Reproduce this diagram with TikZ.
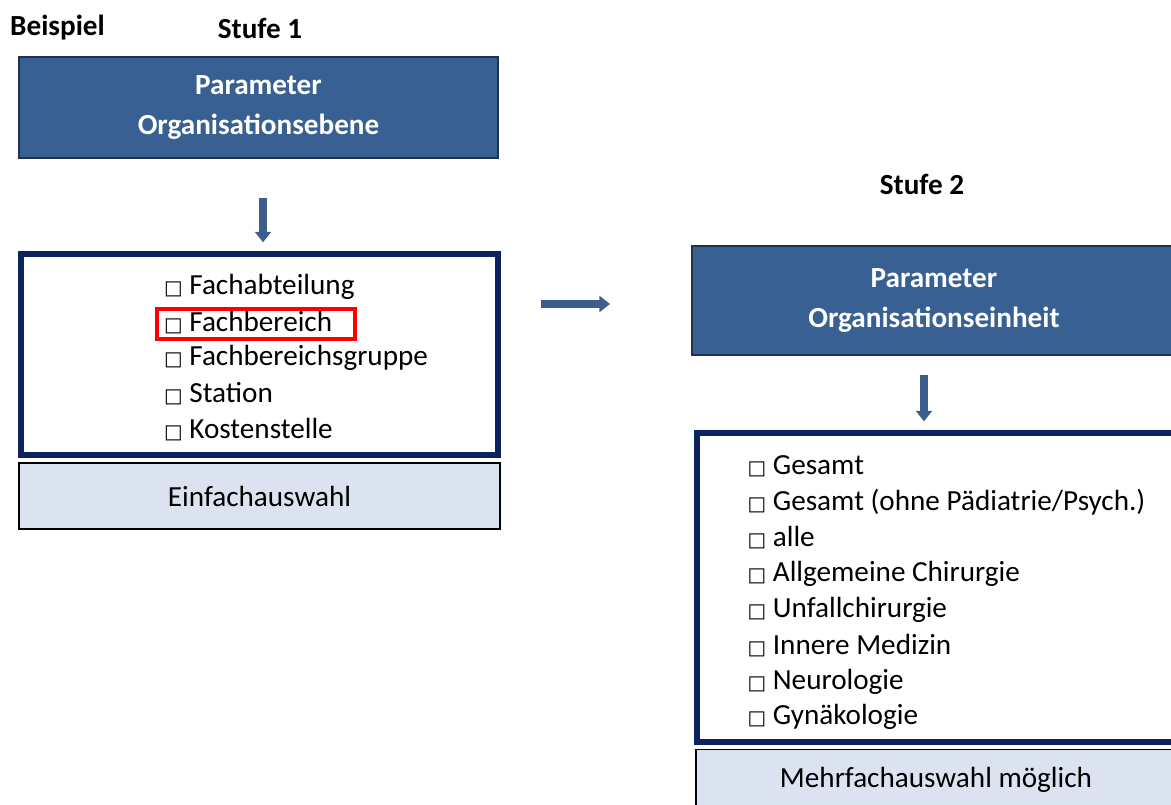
\documentclass[tikz,border=0pt]{standalone}
\usepackage{fontspec}
\setmainfont{Carlito}
\newfontfamily\symfont{DejaVu Sans}
\usetikzlibrary{arrows.meta}
\usetikzlibrary{positioning}

\definecolor{hdrblue}{RGB}{56,96,146}
\definecolor{hdrline}{RGB}{35,50,75}
\definecolor{navyline}{RGB}{12,35,94}
\definecolor{selbg}{RGB}{220,227,240}
\definecolor{arrblue}{RGB}{59,94,140}

\newcommand{\chk}{{\symfont\fontsize{5.6}{5.6}\selectfont □}}

\tikzset{
  stage/.style={font=\fontsize{8.3}{10.1}\selectfont\bfseries},
  header/.style={draw=hdrline, line width=0.8pt, fill=hdrblue, text=white,
    font=\fontsize{8.3}{10.1}\selectfont\bfseries, align=center, inner sep=0pt},
  listbox/.style={draw=navyline, line width=1.5pt, inner sep=0pt},
  selbox/.style={draw=black, line width=0.5pt, fill=selbg, inner sep=0pt},
  item/.style={anchor=west, inner sep=0pt},
  flow/.style={arrblue, line width=2pt, -{Triangle[width=4.5pt,length=3pt]}},
  redmark/.style={draw=red, line width=1.1pt}
}

\begin{document}
\begin{tikzpicture}[font=\fontsize{8.3}{10.1}\selectfont]
  \useasboundingbox (0,0) rectangle (11.71,-8.05);

  % ===== Stufe 1 =====
  \node[stage] (bsp) at (0.575,-0.28) {Beispiel};
  \node[stage] (st1) at (2.60,-0.28) {Stufe 1};

  \node[header, minimum width=4.79cm, minimum height=1.01cm] (ebene) at (2.585,-1.075)
    {Parameter\\[0.05cm]Organisationsebene};

  \node[listbox, minimum width=4.77cm, minimum height=2.01cm] (liste1) at (2.595,-3.545) {};

  \node[item] (e1) at (1.635,-2.87) {\chk\ Fachabteilung};
  \node[item] (e2) at (1.635,-3.23) {\chk\ Fachbereich};
  \node[item] (e3) at (1.635,-3.58) {\chk\ Fachbereichsgruppe};
  \node[item] (e4) at (1.635,-3.94) {\chk\ Station};
  \node[item] (e5) at (1.635,-4.30) {\chk\ Kostenstelle};

  \draw[redmark] (1.57,-3.09) rectangle (3.55,-3.39);

  \node[selbox, minimum width=4.81cm, minimum height=0.66cm] (einfach) at (2.595,-4.96) {Einfachauswahl};

  \draw[flow, shorten <=0.39cm, shorten >=0.09cm] (ebene.south -| 2.63,0) -- (liste1.north -| 2.63,0);

  % ===== Stufe 2 =====
  \node[stage] (st2) at (9.22,-1.84) {Stufe 2};

  \node[header, minimum width=4.84cm, minimum height=1.09cm] (einheit) at (9.34,-3.005)
    {Parameter\\[0.05cm]Organisationseinheit};

  \node[listbox, minimum width=4.78cm, minimum height=3.09cm] (liste2) at (9.36,-5.875) {};

  \foreach \lbl [count=\i] in {Gesamt, Gesamt (ohne Pädiatrie/Psych.), alle,
      Allgemeine Chirurgie, Unfallchirurgie, Innere Medizin, Neurologie, Gynäkologie}
    \node[item] (o\i) at (7.47,{-4.66-0.359*(\i-1)}) {\chk\ \lbl};

  \node[selbox, minimum width=4.80cm, minimum height=0.60cm] (mehr) at (9.36,-7.795) {Mehrfachauswahl möglich};

  \draw[flow, shorten <=0.19cm, shorten >=0.09cm] (einheit.south -| 9.24,0) -- (liste2.north -| 9.24,0);

  % Stufe 1 -> Stufe 2
  \coordinate (von) at (5.41,-3.04);
  \coordinate (nach) at (6.10,-3.04);
  \draw[flow] (von) -- (nach);
\end{tikzpicture}
\end{document}
